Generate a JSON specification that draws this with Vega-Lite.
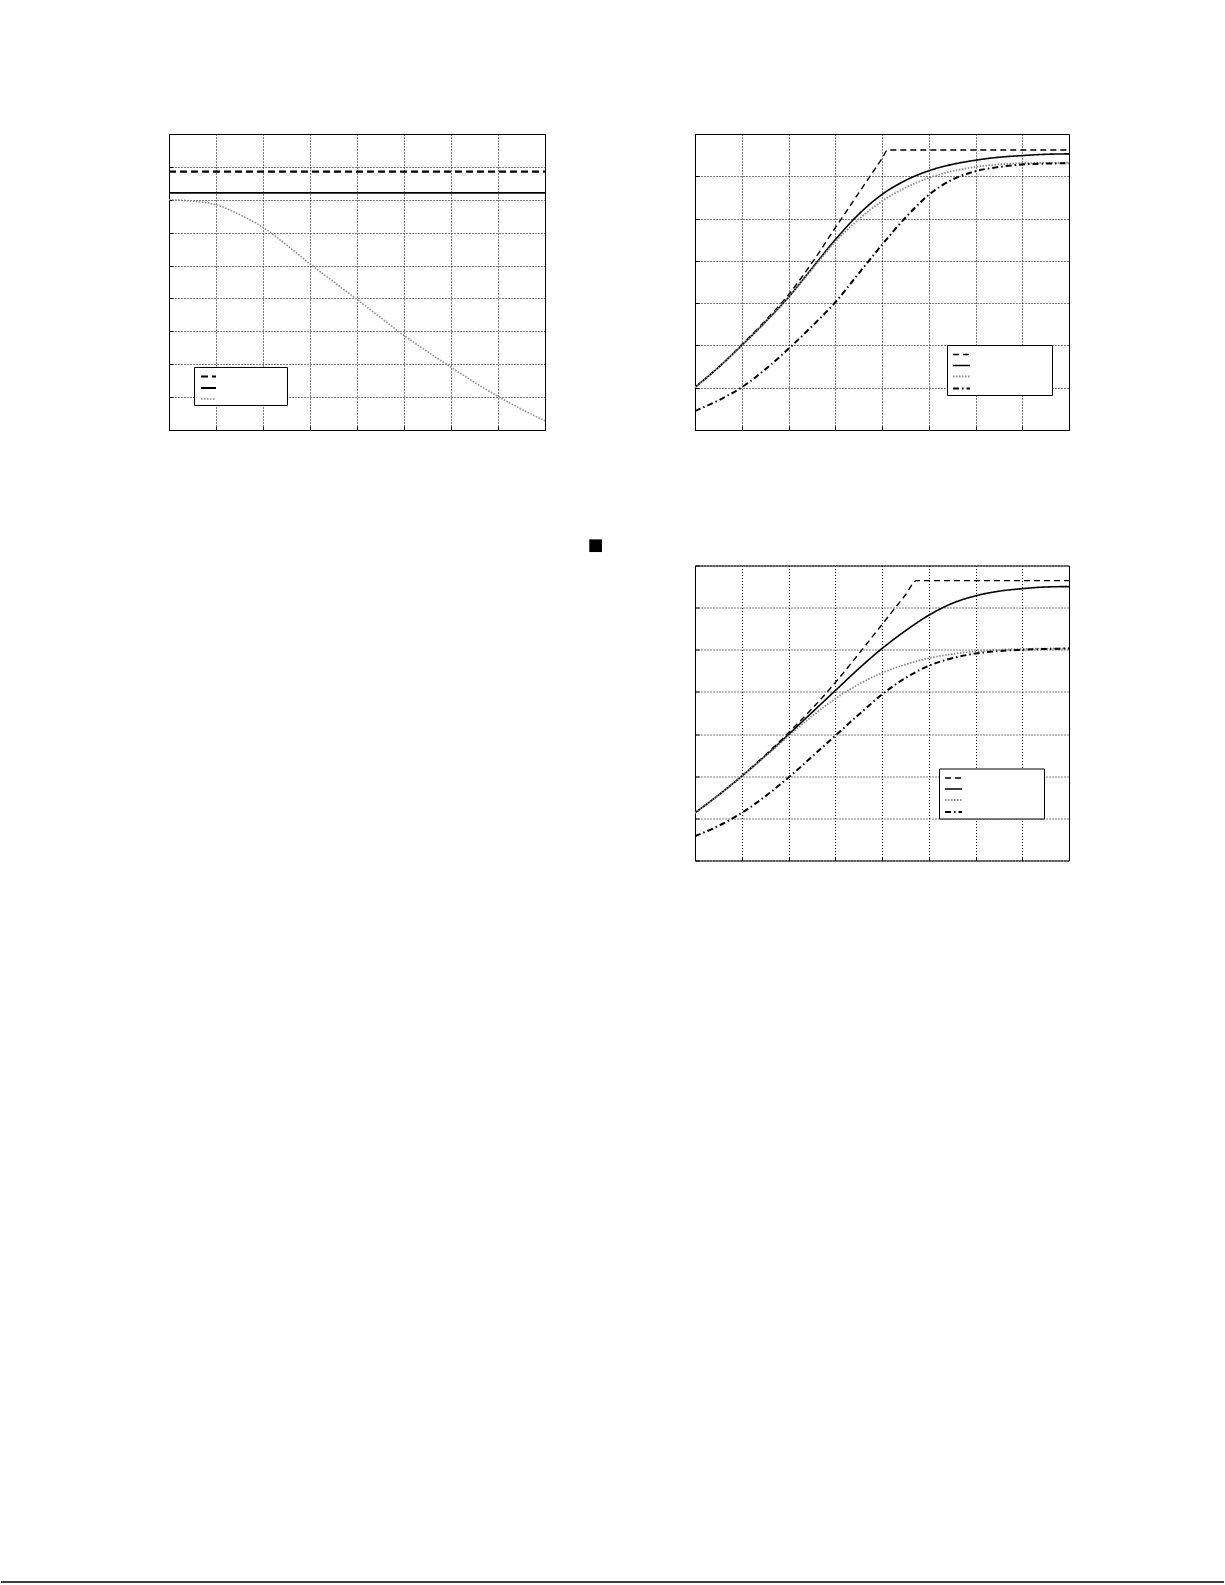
{
  "$schema": "https://vega.github.io/schema/vega-lite/v6.json",
  "padding": {"left": 0, "top": 133, "right": 0, "bottom": 0},
  "background": "white",
  "spacing": 107.5,
  "resolve": {
    "scale": {"x": "independent", "y": "independent", "color": "independent", "strokeDash": "independent", "strokeWidth": "independent"},
    "legend": {"color": "independent", "strokeDash": "independent", "strokeWidth": "independent"}
  },
  "datasets": {
    "p1": [
      {"s": "series 1", "x": 0, "y": 7.855},
      {"s": "series 1", "x": 8, "y": 7.855},
      {"s": "series 2", "x": 0, "y": 7.21},
      {"s": "series 2", "x": 8, "y": 7.21},
      {"s": "series 3", "x": 0, "y": 7.0},
      {"s": "series 3", "x": 0.5, "y": 6.96},
      {"s": "series 3", "x": 1, "y": 6.85},
      {"s": "series 3", "x": 1.5, "y": 6.55},
      {"s": "series 3", "x": 2, "y": 6.16},
      {"s": "series 3", "x": 2.5, "y": 5.63},
      {"s": "series 3", "x": 3, "y": 5.05},
      {"s": "series 3", "x": 3.5, "y": 4.51},
      {"s": "series 3", "x": 4, "y": 3.97},
      {"s": "series 3", "x": 4.5, "y": 3.42},
      {"s": "series 3", "x": 5, "y": 2.875},
      {"s": "series 3", "x": 5.5, "y": 2.38},
      {"s": "series 3", "x": 6, "y": 1.91},
      {"s": "series 3", "x": 6.5, "y": 1.45},
      {"s": "series 3", "x": 7, "y": 1.02},
      {"s": "series 3", "x": 7.5, "y": 0.63},
      {"s": "series 3", "x": 8, "y": 0.28}
    ],
    "p2": [
      {"s": "series 1", "x": 0, "y": 1.01},
      {"s": "series 1", "x": 0.5, "y": 1.48},
      {"s": "series 1", "x": 1, "y": 2.02},
      {"s": "series 1", "x": 1.5, "y": 2.58},
      {"s": "series 1", "x": 2, "y": 3.2},
      {"s": "series 1", "x": 2.5, "y": 3.95},
      {"s": "series 1", "x": 3, "y": 4.78},
      {"s": "series 1", "x": 3.5, "y": 5.6},
      {"s": "series 1", "x": 4, "y": 6.42},
      {"s": "series 1", "x": 4.12, "y": 6.62},
      {"s": "series 1", "x": 8, "y": 6.62},
      {"s": "series 2", "x": 0, "y": 1.01},
      {"s": "series 2", "x": 0.5, "y": 1.48},
      {"s": "series 2", "x": 1, "y": 2.0},
      {"s": "series 2", "x": 1.5, "y": 2.55},
      {"s": "series 2", "x": 2, "y": 3.14},
      {"s": "series 2", "x": 2.5, "y": 3.82},
      {"s": "series 2", "x": 3, "y": 4.5},
      {"s": "series 2", "x": 3.5, "y": 5.1},
      {"s": "series 2", "x": 4, "y": 5.57},
      {"s": "series 2", "x": 4.5, "y": 5.9},
      {"s": "series 2", "x": 5, "y": 6.13},
      {"s": "series 2", "x": 5.5, "y": 6.28},
      {"s": "series 2", "x": 6, "y": 6.38},
      {"s": "series 2", "x": 6.5, "y": 6.45},
      {"s": "series 2", "x": 7, "y": 6.49},
      {"s": "series 2", "x": 7.5, "y": 6.52},
      {"s": "series 2", "x": 8, "y": 6.53},
      {"s": "series 3", "x": 0, "y": 1.01},
      {"s": "series 3", "x": 0.5, "y": 1.48},
      {"s": "series 3", "x": 1, "y": 2.0},
      {"s": "series 3", "x": 1.5, "y": 2.55},
      {"s": "series 3", "x": 2, "y": 3.14},
      {"s": "series 3", "x": 2.5, "y": 3.8},
      {"s": "series 3", "x": 3, "y": 4.45},
      {"s": "series 3", "x": 3.5, "y": 4.98},
      {"s": "series 3", "x": 4, "y": 5.41},
      {"s": "series 3", "x": 4.5, "y": 5.73},
      {"s": "series 3", "x": 5, "y": 5.96},
      {"s": "series 3", "x": 5.5, "y": 6.12},
      {"s": "series 3", "x": 6, "y": 6.22},
      {"s": "series 3", "x": 6.5, "y": 6.28},
      {"s": "series 3", "x": 7, "y": 6.31},
      {"s": "series 3", "x": 8, "y": 6.32},
      {"s": "series 4", "x": 0, "y": 0.45},
      {"s": "series 4", "x": 0.5, "y": 0.7},
      {"s": "series 4", "x": 1, "y": 1.01},
      {"s": "series 4", "x": 1.5, "y": 1.43},
      {"s": "series 4", "x": 2, "y": 1.92},
      {"s": "series 4", "x": 2.5, "y": 2.45},
      {"s": "series 4", "x": 3, "y": 3.02},
      {"s": "series 4", "x": 3.5, "y": 3.7},
      {"s": "series 4", "x": 4, "y": 4.38},
      {"s": "series 4", "x": 4.5, "y": 5.02},
      {"s": "series 4", "x": 5, "y": 5.56},
      {"s": "series 4", "x": 5.5, "y": 5.92},
      {"s": "series 4", "x": 6, "y": 6.12},
      {"s": "series 4", "x": 6.5, "y": 6.22},
      {"s": "series 4", "x": 7, "y": 6.28},
      {"s": "series 4", "x": 7.5, "y": 6.3},
      {"s": "series 4", "x": 8, "y": 6.31}
    ],
    "p3": [
      {"s": "series 1", "x": 0, "y": 1.13},
      {"s": "series 1", "x": 0.5, "y": 1.55},
      {"s": "series 1", "x": 1, "y": 2.0},
      {"s": "series 1", "x": 1.5, "y": 2.5},
      {"s": "series 1", "x": 2, "y": 3.03},
      {"s": "series 1", "x": 2.5, "y": 3.6},
      {"s": "series 1", "x": 3, "y": 4.22},
      {"s": "series 1", "x": 3.5, "y": 4.9},
      {"s": "series 1", "x": 4, "y": 5.6},
      {"s": "series 1", "x": 4.5, "y": 6.3},
      {"s": "series 1", "x": 4.74, "y": 6.64},
      {"s": "series 1", "x": 8, "y": 6.64},
      {"s": "series 2", "x": 0, "y": 1.13},
      {"s": "series 2", "x": 0.5, "y": 1.55},
      {"s": "series 2", "x": 1, "y": 2.0},
      {"s": "series 2", "x": 1.5, "y": 2.48},
      {"s": "series 2", "x": 2, "y": 2.99},
      {"s": "series 2", "x": 2.5, "y": 3.51},
      {"s": "series 2", "x": 3, "y": 4.03},
      {"s": "series 2", "x": 3.5, "y": 4.55},
      {"s": "series 2", "x": 4, "y": 5.03},
      {"s": "series 2", "x": 4.5, "y": 5.45},
      {"s": "series 2", "x": 5, "y": 5.82},
      {"s": "series 2", "x": 5.5, "y": 6.1},
      {"s": "series 2", "x": 6, "y": 6.28},
      {"s": "series 2", "x": 6.5, "y": 6.39},
      {"s": "series 2", "x": 7, "y": 6.45},
      {"s": "series 2", "x": 7.5, "y": 6.49},
      {"s": "series 2", "x": 8, "y": 6.5},
      {"s": "series 3", "x": 0, "y": 1.13},
      {"s": "series 3", "x": 0.5, "y": 1.55},
      {"s": "series 3", "x": 1, "y": 2.0},
      {"s": "series 3", "x": 1.5, "y": 2.47},
      {"s": "series 3", "x": 2, "y": 2.95},
      {"s": "series 3", "x": 2.5, "y": 3.42},
      {"s": "series 3", "x": 3, "y": 3.84},
      {"s": "series 3", "x": 3.5, "y": 4.18},
      {"s": "series 3", "x": 4, "y": 4.45},
      {"s": "series 3", "x": 4.5, "y": 4.65},
      {"s": "series 3", "x": 5, "y": 4.8},
      {"s": "series 3", "x": 5.5, "y": 4.9},
      {"s": "series 3", "x": 6, "y": 4.96},
      {"s": "series 3", "x": 6.5, "y": 5.0},
      {"s": "series 3", "x": 7, "y": 5.02},
      {"s": "series 3", "x": 8, "y": 5.03},
      {"s": "series 4", "x": 0, "y": 0.58},
      {"s": "series 4", "x": 0.5, "y": 0.82},
      {"s": "series 4", "x": 1, "y": 1.13},
      {"s": "series 4", "x": 1.5, "y": 1.52},
      {"s": "series 4", "x": 2, "y": 1.97},
      {"s": "series 4", "x": 2.5, "y": 2.46},
      {"s": "series 4", "x": 3, "y": 2.96},
      {"s": "series 4", "x": 3.5, "y": 3.46},
      {"s": "series 4", "x": 4, "y": 3.94},
      {"s": "series 4", "x": 4.5, "y": 4.33},
      {"s": "series 4", "x": 5, "y": 4.62},
      {"s": "series 4", "x": 5.5, "y": 4.8},
      {"s": "series 4", "x": 6, "y": 4.91},
      {"s": "series 4", "x": 6.5, "y": 4.97},
      {"s": "series 4", "x": 7, "y": 5.0},
      {"s": "series 4", "x": 7.5, "y": 5.02},
      {"s": "series 4", "x": 8, "y": 5.03}
    ],
    "marker": [{"x": -2.126, "y": 7.47}],
    "page": [{"y": 0}]
  },
  "vconcat": [
    {
      "bounds": "flush",
      "spacing": 150,
      "resolve": {
        "scale": {"x": "independent", "y": "independent", "color": "independent", "strokeDash": "independent", "strokeWidth": "independent"},
        "legend": {"color": "independent", "strokeDash": "independent", "strokeWidth": "independent"}
      },
      "hconcat": [
        {"width": 17.5, "height": 296, "view": {"stroke": null}, "data": {"values": []}, "mark": "point"},
        {
          "width": 376,
          "height": 296,
          "data": {"name": "p1"},
          "mark": {"type": "line", "clip": true, "interpolate": "monotone"},
          "encoding": {
            "x": {"field": "x", "type": "quantitative", "title": null, "scale": {"domain": [0, 8], "nice": false}, "axis": {"values": [0, 1, 2, 3, 4, 5, 6, 7, 8]}},
            "y": {"field": "y", "type": "quantitative", "title": null, "scale": {"domain": [0, 9], "nice": false}, "axis": {"values": [0, 1, 2, 3, 4, 5, 6, 7, 8, 9]}},
            "color": {"field": "s", "type": "nominal", "scale": {"domain": ["series 1", "series 2", "series 3"], "range": ["#000000", "#000000", "#8c8c8c"]}, "legend": {"orient": "none", "legendX": 25, "legendY": 233, "title": null, "labelExpr": "''", "symbolType": "M-1.25,0H1.25", "symbolSize": 144, "rowPadding": -1, "labelOffset": 69}},
            "strokeDash": {"field": "s", "type": "nominal", "scale": {"domain": ["series 1", "series 2", "series 3"], "range": [[7, 4], [1, 0], [1.5, 1.5]]}, "legend": {"orient": "none", "legendX": 25, "legendY": 233, "title": null, "labelExpr": "''", "symbolType": "M-1.25,0H1.25", "symbolSize": 144, "rowPadding": -1, "labelOffset": 69}},
            "strokeWidth": {"field": "s", "type": "nominal", "scale": {"domain": ["series 1", "series 2", "series 3"], "range": [2.2, 1.6, 1.3]}, "legend": {"orient": "none", "legendX": 25, "legendY": 233, "title": null, "labelExpr": "''", "symbolType": "M-1.25,0H1.25", "symbolSize": 144, "rowPadding": -1, "labelOffset": 69}}
          }
        },
        {
          "width": 374,
          "height": 296,
          "data": {"name": "p2"},
          "mark": {"type": "line", "clip": true, "interpolate": "monotone"},
          "encoding": {
            "x": {"field": "x", "type": "quantitative", "title": null, "scale": {"domain": [0, 8], "nice": false}, "axis": {"values": [0, 1, 2, 3, 4, 5, 6, 7, 8]}},
            "y": {"field": "y", "type": "quantitative", "title": null, "scale": {"domain": [0, 7], "nice": false}, "axis": {"values": [0, 1, 2, 3, 4, 5, 6, 7]}},
            "color": {"field": "s", "type": "nominal", "scale": {"domain": ["series 1", "series 2", "series 3", "series 4"], "range": ["#000000", "#000000", "#8c8c8c", "#000000"]}, "legend": {"orient": "none", "legendX": 252, "legendY": 211, "title": null, "labelExpr": "''"}},
            "strokeDash": {"field": "s", "type": "nominal", "scale": {"domain": ["series 1", "series 2", "series 3", "series 4"], "range": [[6, 4], [1, 0], [1.5, 1.5], [6, 3, 1.5, 3]]}, "legend": {"orient": "none", "legendX": 252, "legendY": 211, "title": null, "labelExpr": "''"}},
            "strokeWidth": {"field": "s", "type": "nominal", "scale": {"domain": ["series 1", "series 2", "series 3", "series 4"], "range": [1.4, 2, 1.3, 1.3]}, "legend": {"orient": "none", "legendX": 252, "legendY": 211, "title": null, "labelExpr": "''"}}
          }
        }
      ]
    },
    {
      "bounds": "flush",
      "spacing": 150,
      "resolve": {
        "scale": {"x": "independent", "y": "independent", "color": "independent", "strokeDash": "independent", "strokeWidth": "independent"},
        "legend": {"color": "independent", "strokeDash": "independent", "strokeWidth": "independent"}
      },
      "hconcat": [
        {"width": 544, "height": 295, "view": {"stroke": null}, "data": {"values": []}, "mark": "point"},
        {
          "width": 374,
          "height": 295,
          "encoding": {
            "x": {"field": "x", "type": "quantitative", "title": null, "scale": {"domain": [0, 8], "nice": false}, "axis": {"values": [0, 1, 2, 3, 4, 5, 6, 7, 8]}},
            "y": {"field": "y", "type": "quantitative", "title": null, "scale": {"domain": [0, 7], "nice": false}, "axis": {"values": [0, 1, 2, 3, 4, 5, 6, 7]}}
          },
          "layer": [
            {
              "data": {"name": "p3"},
              "mark": {"type": "line", "clip": true, "interpolate": "monotone"},
              "encoding": {
                "color": {"field": "s", "type": "nominal", "scale": {"domain": ["series 1", "series 2", "series 3", "series 4"], "range": ["#000000", "#000000", "#8c8c8c", "#000000"]}, "legend": {"orient": "none", "legendX": 244, "legendY": 203, "title": null, "labelExpr": "''"}},
                "strokeDash": {"field": "s", "type": "nominal", "scale": {"domain": ["series 1", "series 2", "series 3", "series 4"], "range": [[6, 4], [1, 0], [1.5, 1.5], [6, 3, 1.5, 3]]}, "legend": {"orient": "none", "legendX": 244, "legendY": 203, "title": null, "labelExpr": "''"}},
                "strokeWidth": {"field": "s", "type": "nominal", "scale": {"domain": ["series 1", "series 2", "series 3", "series 4"], "range": [1.4, 2, 1.3, 1.3]}, "legend": {"orient": "none", "legendX": 244, "legendY": 203, "title": null, "labelExpr": "''"}}
              }
            },
            {
              "data": {"name": "marker"},
              "mark": {"type": "square", "filled": true, "color": "#000000", "size": 161, "opacity": 1}
            }
          ]
        }
      ]
    },
    {
      "width": 1223,
      "height": 613,
      "view": {"stroke": null},
      "data": {"name": "page"},
      "mark": {"type": "rule", "color": "#000000", "strokeWidth": 1.6},
      "encoding": {
        "y": {"field": "y", "type": "quantitative", "scale": {"domain": [0, 1]}, "axis": null}
      }
    }
  ],
  "config": {
    "view": {"stroke": "#000000", "strokeWidth": 1},
    "axis": {
      "labels": false,
      "domain": false,
      "ticks": true,
      "tickSize": -4,
      "tickColor": "#000000",
      "grid": true,
      "gridColor": "#000000",
      "gridDash": [1, 2],
      "gridOpacity": 1,
      "gridWidth": 1,
      "minExtent": 0,
      "maxExtent": 0
    },
    "legend": {
      "symbolType": "M-1.3,0H1.3",
      "symbolSize": 169,
      "symbolOffset": 5,
      "labelOffset": 81,
      "labelFontSize": 6,
      "rowPadding": 0,
      "padding": 2,
      "strokeColor": "#000000",
      "fillColor": "#ffffff",
      "cornerRadius": 0
    }
  }
}
